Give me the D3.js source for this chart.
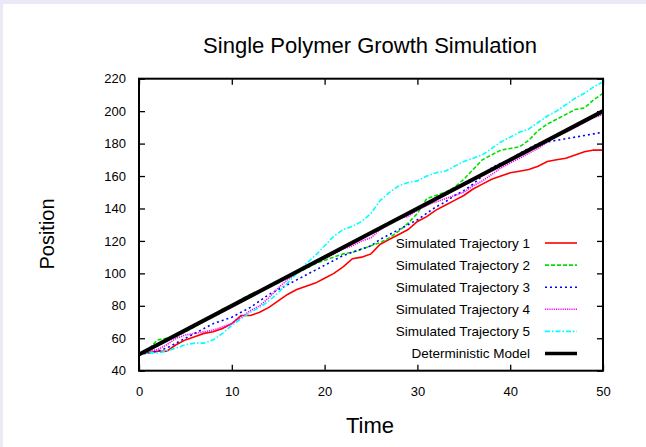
<!DOCTYPE html>
<html><head><meta charset="utf-8">
<script src="https://cdn.jsdelivr.net/npm/d3@7"></script>
<style>html,body{margin:0;padding:0;background:#eaeaf6;}svg{display:block;}</style>
</head><body>
<svg id="chart" width="646" height="447"></svg>
<script>
const times = d3.range(0, 51);
const traj1 = [51,51,52,52,56,59,61,63,64,66,69,74,74,76,79,83,87,90,92,94,97,100,104,109,110,112,118,121,124,127,132,135,139,142,145,148,152,155,158,160,162,163,164,166,169,170,171,173,175,176,176];
const traj2 = [50,53,59,60,61,64,67,71,74,78,80,84,87,89,92,94,98,100,103,106,108,110,112,113,115,117,119,122,126,131,137,146,148,150,153,158,164,170,173,176,177,178,182,188,192,195,198,201,202,207,211];
const traj3 = [50,51,52,54,57,60,63,66,69,71,73,76,79,83,87,90,93,96,99,102,105,108,111,113,115,117,121,124,127,130,133,137,141,144,148,151,155,160,165,168,170,174,177,180,181,182,183,184,185,186,187];
const traj4 = [50,52,53,56,60,62,63,64,65,67,69,73,77,80,85,91,96,100,104,107,109,112,115,117,120,122,127,131,134,135,139,142,144,146,148,150,154,157,161,165,168,171,174,177,181,185,187,190,193,196,198];
const traj5 = [50,51,51,52,54,56,57,57,59,63,68,72,76,79,83,88,94,100,106,111,117,123,127,129,132,137,145,150,154,156,157,160,162,163,166,169,171,173,177,181,184,187,189,193,197,200,204,208,211,215,218];
const modelTimes = [0, 50];
const modelValues = [50, 200];
const seriesNames = ["Simulated Trajectory 1","Simulated Trajectory 2","Simulated Trajectory 3","Simulated Trajectory 4","Simulated Trajectory 5","Deterministic Model"];
const seriesColors = ["#ff0000","#00e000","#0000ff","#ff00ff","#00ffff","#000000"];
const seriesDash = [null,"4,2","2,3","1.2,1","5,2,1.5,2",null];
const seriesWidth = [1.6,1.6,1.6,1.6,1.6,4];
const xTicks = [0,10,20,30,40,50];
const yTicks = [40,60,80,100,120,140,160,180,200,220];
const titleText = "Single Polymer Growth Simulation";
const xLabel = "Time", yLabel = "Position";

const svg = d3.select("#chart");
const font = "'Liberation Sans', Arial, Helvetica, sans-serif";
svg.append("rect").attr("x",3).attr("y",4).attr("width",643).attr("height",443).attr("fill","#ffffff");

const L=139, R=603, T=78.7, B=370.7;
const x = d3.scaleLinear().domain([0,50]).range([L,R]);
const y = d3.scaleLinear().domain([40,220]).range([B,T]);

const g = svg.append("g");
svg.append("defs").append("clipPath").attr("id","c").append("rect")
  .attr("x",L).attr("y",T).attr("width",R-L).attr("height",B-T);

const series = [traj1,traj2,traj3,traj4,traj5];
const line = d3.line().x(d=>x(d[0])).y(d=>y(d[1]));
const plot = g.append("g").attr("clip-path","url(#c)");
series.forEach((s,i)=>{
  plot.append("path").datum(times.map((t,k)=>[t,s[k]]))
    .attr("d",line).attr("fill","none").attr("stroke",seriesColors[i])
    .attr("stroke-width",seriesWidth[i]).attr("stroke-dasharray",seriesDash[i]);
});
plot.append("path").datum(modelTimes.map((t,k)=>[t,modelValues[k]]))
  .attr("d",line).attr("fill","none").attr("stroke","#000").attr("stroke-width",seriesWidth[5]);

// axes
const tl = 6;
const axB = d3.axisBottom(x).tickValues(xTicks).tickSize(-tl).tickPadding(16).tickFormat(d3.format("d"));
const axT = d3.axisTop(x).tickValues(xTicks).tickSize(-tl).tickFormat("");
const axL = d3.axisLeft(y).tickValues(yTicks).tickSize(-tl).tickPadding(13).tickFormat(d3.format("d"));
const axR = d3.axisRight(y).tickValues(yTicks).tickSize(-tl).tickFormat("");
function style(sel){
  sel.select(".domain").remove();
  sel.selectAll("line").attr("stroke","#000").attr("stroke-width",1.3);
  sel.selectAll("text").attr("font-family",font).attr("font-size",13).attr("fill","#000");
}
g.append("g").attr("transform",`translate(0,${B})`).call(axB).call(style);
g.append("g").attr("transform",`translate(0,${T})`).call(axT).call(style);
g.append("g").attr("transform",`translate(${L},0)`).call(axL).call(style);
g.append("g").attr("transform",`translate(${R},0)`).call(axR).call(style);
g.append("rect").attr("x",L).attr("y",T).attr("width",R-L).attr("height",B-T)
  .attr("fill","none").attr("stroke","#000").attr("stroke-width",2);

// legend
const legY0 = 243, legDy = 22.1;
const leg = g.append("g");
seriesNames.forEach((n,i)=>{
  const yy = legY0 + i*legDy;
  leg.append("text").attr("x",530).attr("y",yy+4.7).attr("text-anchor","end")
    .attr("font-family",font).attr("font-size",13.5).attr("fill","#000").text(n);
  leg.append("line").attr("x1",545).attr("x2",577).attr("y1",yy).attr("y2",yy)
    .attr("stroke",seriesColors[i]).attr("stroke-width",seriesWidth[i]===4?3.5:1.6)
    .attr("stroke-dasharray",seriesDash[i]);
});

svg.append("text").attr("x",370).attr("y",53).attr("text-anchor","middle")
  .attr("font-family",font).attr("font-size",22).text(titleText);
svg.append("text").attr("x",370).attr("y",433).attr("text-anchor","middle")
  .attr("font-family",font).attr("font-size",22).text(xLabel);
svg.append("text").attr("transform","translate(54,234) rotate(-90)").attr("text-anchor","middle")
  .attr("font-family",font).attr("font-size",20).text(yLabel);
</script>
</body></html>
